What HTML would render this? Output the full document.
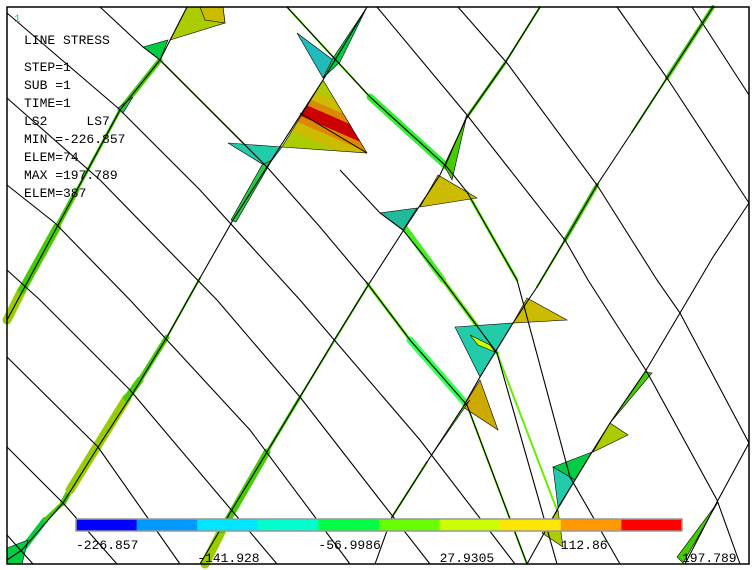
<!DOCTYPE html>
<html><head><meta charset="utf-8"><style>
body{margin:0;background:#fff;width:756px;height:570px;overflow:hidden}
svg{display:block}
text{font-family:"Liberation Mono",monospace;font-size:13px;fill:#000;white-space:pre}
</style></head><body>
<svg width="756" height="570">
<defs>
<linearGradient id="hot" gradientUnits="userSpaceOnUse" x1="345" y1="88" x2="318" y2="150">
<stop offset="0" stop-color="#aacc00"/><stop offset="0.22" stop-color="#aacc00"/>
<stop offset="0.22" stop-color="#ccbb00"/><stop offset="0.36" stop-color="#ccbb00"/>
<stop offset="0.36" stop-color="#dd8800"/><stop offset="0.46" stop-color="#dd8800"/>
<stop offset="0.46" stop-color="#cc0000"/><stop offset="0.64" stop-color="#cc0000"/>
<stop offset="0.64" stop-color="#dd8800"/><stop offset="0.74" stop-color="#dd8800"/>
<stop offset="0.74" stop-color="#ccbb00"/><stop offset="0.9" stop-color="#ccbb00"/>
<stop offset="0.9" stop-color="#aacc00"/><stop offset="1" stop-color="#aacc00"/>
</linearGradient>
</defs>
<rect x="0" y="0" width="756" height="570" fill="#fff"/>
<g id="bands"></g>
<g stroke="#000" stroke-width="0.6">
<polygon points="170,40 187,7 223,7 225,23" fill="#aacc00"/>
<polygon points="200,7 223,7 225,23 205,20" fill="#ccbb00"/>
<polygon points="143,47 168,40 160,60" fill="#00cc44"/>
<polygon points="118,108 133,97 123,113" fill="#22cc44"/>
<polygon points="297,33 333,60 323,78" fill="#22bbbb"/>
<polygon points="323,78 333,58 367,7 340,62" fill="#00cc44"/>
<polygon points="323,80 367,153 282,147" fill="url(#hot)"/>
<line x1="300" y1="113" x2="367" y2="153" stroke="#000" stroke-width="1"/>
<polygon points="228,143 282,147 267,167" fill="#22ccaa"/>
<polygon points="262,165 272,160 236,222 231,220" fill="#22cc44"/>
<polygon points="438,175 477,198 420,207" fill="#ccbb00"/>
<polygon points="445,167 467,115 452,180" fill="#44cc00"/>
<polygon points="380,213 417,208 403,230" fill="#22bb99"/>
<polygon points="527,298 567,320 513,323" fill="#ccbb00"/>
<polygon points="455,327 513,323 480,377" fill="#22ccaa"/>
<polygon points="470,335 490,345 495,352 478,345" fill="#ccff00"/>
<polygon points="480,380 498,430 463,407" fill="#ccaa00"/>
<polygon points="463,407 470,400 427,462" fill="#44cc00"/>
<polygon points="645,372 652,373 610,423" fill="#44cc00"/>
<polygon points="610,423 628,435 593,452" fill="#aacc00"/>
<polygon points="592,452 553,467 575,480" fill="#00cc44"/>
<polygon points="553,467 575,480 558,507" fill="#22ccaa"/>
<polygon points="542,533 563,547 558,510" fill="#aacc00"/>
<polygon points="718,502 677,557 683,563" fill="#44cc00"/>
<polygon points="7,548 28,540 22,564 7,564" fill="#00cc44"/>
</g>
<g id="mesh" fill="none" stroke="#000" stroke-width="1.1">
<polyline points="7,535 33,564"/>
<polyline points="7,447 63,503 117,564"/>
<polyline points="7,357 98,447 180,564"/>
<polyline points="7,270 40,300 130,390 277,564"/>
<polyline points="7,185 55,223 130,300 250,430 350,564"/>
<polyline points="7,98 100,180 217,300 300,397 380,500 430,564"/>
<polyline points="7,13 118,108 200,190 300,300 420,440 515,564"/>
<polyline points="100,7 143,47 160,60 267,167 320,227 367,283 410,340 467,405 527,564"/>
<polyline points="287,7 370,97 447,167 467,192 517,280 570,477 620,564"/>
<polyline points="340,170 380,213 403,230 443,280 497,353 557,564"/>
<polyline points="377,7 467,115 565,240 588,280 647,372 717,500 740,564"/>
<polyline points="458,7 507,63 597,185 657,280 680,313 749,443"/>
<polyline points="617,7 667,78 749,203"/>
<polyline points="692,7 749,95"/>
<polyline points="7,320 57,227 120,110 160,60 187,7"/>
<polyline points="7,560 22,550 63,503 98,447 133,393 167,337 200,278 233,220 267,167 323,80 367,7"/>
<polyline points="200,564 233,508 267,452 300,397 333,342 367,287 405,228 440,175 467,117 505,63 540,7"/>
<polyline points="375,564 392,517 427,462 463,407 480,377 513,323 537,287 565,240 597,185 632,132 667,78 713,7"/>
<polyline points="527,564 557,510 575,480 592,452 610,423 645,372 680,313 713,257 749,203"/>
<polyline points="685,564 717,502 749,443"/>
</g>
<rect x="7" y="7" width="742" height="557" fill="none" stroke="#000" stroke-width="1.5"/>
<text x="14" y="22" style="fill:#00cccc;font-size:11px">1</text>
<g>
<text x="24" y="44">LINE STRESS</text>
<text x="24" y="71">STEP=1</text>
<text x="24" y="89">SUB =1</text>
<text x="24" y="107">TIME=1</text>
<text x="24" y="125" xml:space="preserve">LS2     LS7</text>
<text x="24" y="143">MIN =-226.857</text>
<text x="24" y="161">ELEM=74</text>
<text x="24" y="179">MAX =197.789</text>
<text x="24" y="197">ELEM=387</text>
</g>
<g id="legend"></g>
</svg>
<script>
const legendColors=["#0000ff","#0099ff","#00e6ff","#00ffcc","#00ff44","#66ff00","#ccff00","#ffe600","#ff9900","#ff0000"];
const legendLabels=["-226.857","-141.928","-56.9986","27.9305","112.86","197.789"];
const ns="http://www.w3.org/2000/svg";
const bandSegs=[
[7,320,22,290,9,"#99cc00"],[22,290,57,227,8,"#44cc00"],[57,227,77,190,5,"#44cc00"],[77,190,120,110,3,"#44cc00"],[120,110,160,60,5,"#44cc00"],
[22,550,45,520,6,"#00cc44"],[45,520,63,503,4,"#44cc00"],[63,503,70,490,6,"#44cc00"],[70,490,127,398,9,"#99cc00"],[127,398,140,380,7,"#44cc00"],[140,380,167,337,5,"#44cc00"],[167,337,200,278,2,"#44cc00"],
[205,564,222,530,9,"#99cc00"],[222,530,267,452,7,"#44cc00"],[267,452,300,397,3,"#44cc00"],[300,397,367,287,2,"#44cc00"],
[233,220,262,170,3,"#44cc00"],
[287,7,370,97,2,"#66ee00"],[370,97,447,167,7,"#33ee33"],
[160,60,267,167,2,"#66ee00"],[367,283,410,340,3,"#66ee00"],[410,340,467,405,7,"#33ff55"],[467,405,527,564,2,"#66ee00"],
[405,228,443,280,6,"#44ee22"],[443,280,497,353,4,"#66ee00"],[497,353,557,510,2,"#66ee00"],
[467,117,505,63,3,"#44cc00"],[505,63,540,7,2,"#44cc00"],
[713,7,667,78,4,"#44cc00"],[667,78,632,132,2,"#44cc00"],[597,185,565,240,4,"#44cc00"],[565,240,537,287,2,"#44cc00"],
[467,192,517,280,3,"#66ee00"],
[392,517,427,462,2,"#44cc00"]
];
const bg=document.getElementById('bands');
bandSegs.forEach(s=>{
 const l=document.createElementNS(ns,'line');
 l.setAttribute('x1',s[0]);l.setAttribute('y1',s[1]);l.setAttribute('x2',s[2]);l.setAttribute('y2',s[3]);
 l.setAttribute('stroke',s[5]);l.setAttribute('stroke-width',s[4]);l.setAttribute('stroke-linecap','round');
 
 
 bg.appendChild(l);
});
const g=document.getElementById('legend');
const x0=76,x1=682,w=(x1-x0)/legendColors.length;
legendColors.forEach((c,i)=>{
 const r=document.createElementNS(ns,'rect');
 r.setAttribute('x',x0+i*w);r.setAttribute('y',519);r.setAttribute('width',w+0.5);r.setAttribute('height',12);r.setAttribute('fill',c);
 
 
 g.appendChild(r);
});
const b=document.createElementNS(ns,'rect');
b.setAttribute('x',x0);b.setAttribute('y',519);b.setAttribute('width',x1-x0);b.setAttribute('height',12);b.setAttribute('fill','none');b.setAttribute('stroke','#999');b.setAttribute('stroke-width','1.5');


g.appendChild(b);
legendLabels.forEach((l,i)=>{
 const t=document.createElementNS(ns,'text');
 t.setAttribute('x',x0+i*2*w);t.setAttribute('y',i%2?562:549);t.textContent=l;
 
 
 g.appendChild(t);
});
</script>
</body></html>
